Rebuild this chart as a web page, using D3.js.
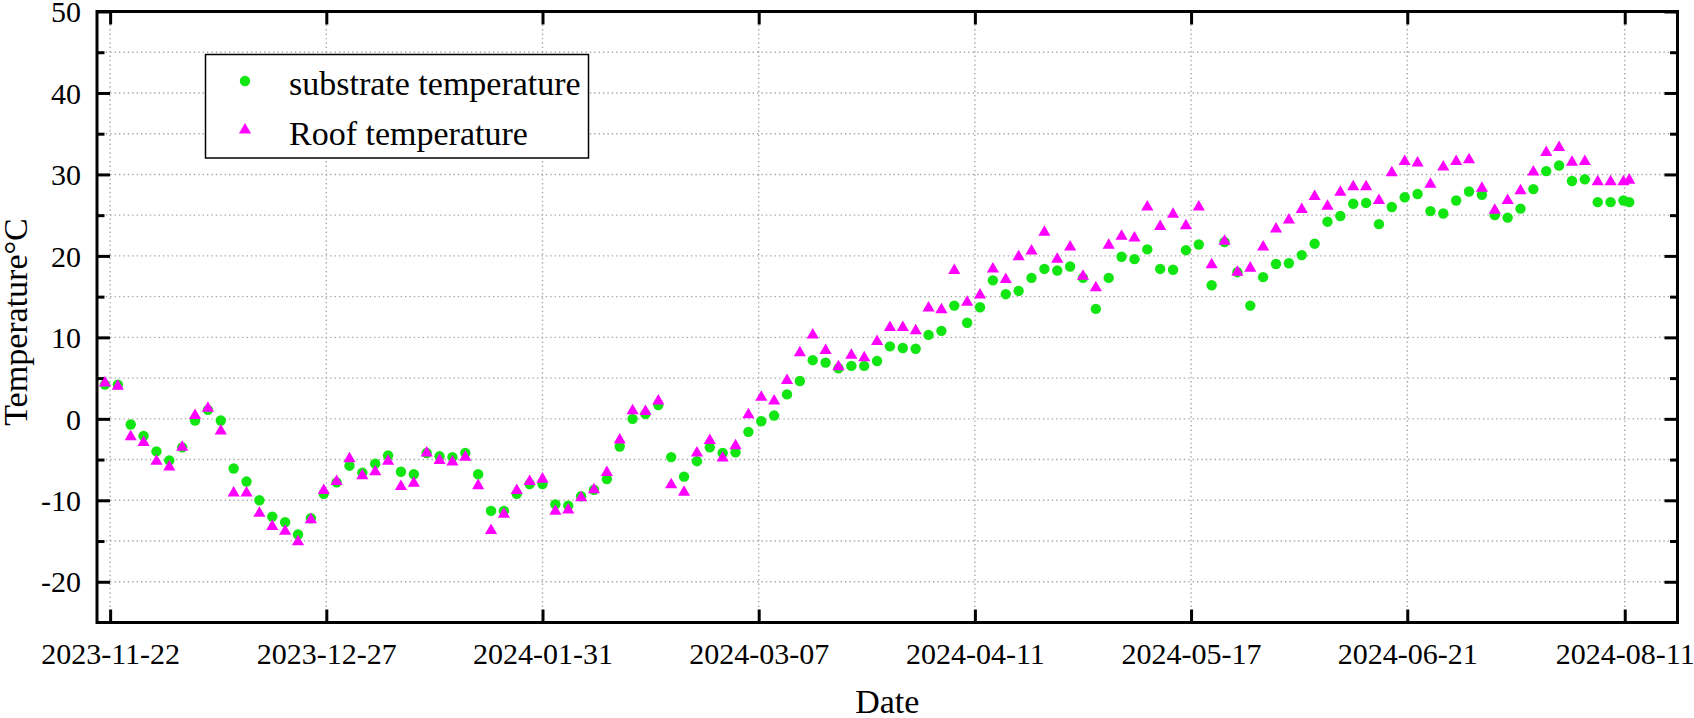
<!DOCTYPE html>
<html>
<head>
<meta charset="utf-8">
<script src="https://cdn.jsdelivr.net/npm/d3@7"></script>
<style>
  html, body { margin: 0; padding: 0; background: #fff; }
  svg { display: block; }
  text { font-family: "Liberation Serif", "Times New Roman", serif; fill: #000; }
</style>
</head>
<body>
<svg id="chart" width="1694" height="718"></svg>
<script>
// ---------- data ----------
const xTickLabels = ["2023-11-22","2023-12-27","2024-01-31","2024-03-07","2024-04-11","2024-05-17","2024-06-21","2024-08-11"];
// position of each date label along the sample sequence (sample number)
const xTickSample = [0.4, 17.2, 34.0, 50.8, 67.6, 84.4, 101.2, 118.1];

const substrateTemp = [
  4.2, 4.2, -0.7, -2.1, -4.0, -5.1, -3.5, -0.2, 1.1, -0.2,
  -6.1, -7.7, -10.0, -12.0, -12.7, -14.2, -12.2, -9.2, -7.8, -5.75,
  -6.6, -5.5, -4.5, -6.5, -6.8, -4.2, -4.6, -4.7, -4.2, -6.8,
  -11.3, -11.3, -9.2, -8.0, -8.0, -10.5, -10.65, -9.5, -8.7, -7.4,
  -3.4, 0.0, 0.6, 1.7, -4.7, -7.1, -5.2, -3.5, -4.2, -4.1,
  -1.6, -0.3, 0.4, 3.0, 4.65, 7.2, 6.9, 6.2, 6.5, 6.5,
  7.1, 8.9, 8.7, 8.6, 10.3, 10.8, 13.9, 11.8, 13.7, 17.0,
  15.3, 15.7, 17.3, 18.4, 18.2, 18.7, 17.3, 13.5, 17.3, 19.9,
  19.6, 20.8, 18.4, 18.3, 20.7, 21.4, 16.4, 21.7, 18.0, 13.9,
  17.4, 19.0, 19.1, 20.1, 21.5, 24.2, 24.9, 26.4, 26.5, 23.9,
  26.0, 27.2, 27.6, 25.5, 25.2, 26.8, 27.9, 27.5, 25.0, 24.7,
  25.8, 28.2, 30.4, 31.1, 29.2, 29.4, 26.6, 26.6, 26.8, 26.6
];
const roofTemp = [
  4.4, 4.0, -2.2, -2.9, -5.2, -5.9, -3.5, 0.4, 1.3, -1.5,
  -9.1, -9.1, -11.6, -13.2, -13.8, -15.1, -12.4, -8.8, -7.7, -4.9,
  -7.0, -6.5, -5.2, -8.3, -7.9, -4.2, -5.1, -5.3, -4.7, -8.2,
  -13.7, -11.7, -8.8, -7.7, -7.4, -11.35, -11.2, -9.7, -8.7, -6.6,
  -2.6, 1.0, 0.9, 2.2, -8.1, -9.0, -4.2, -2.65, -4.8, -3.3,
  0.5, 2.65, 2.2, 4.7, 8.1, 10.3, 8.4, 6.4, 7.8, 7.5,
  9.5, 11.2, 11.2, 10.8, 13.6, 13.4, 18.2, 14.3, 15.2, 18.4,
  17.1, 19.9, 20.6, 22.9, 19.6, 21.1, 17.5, 16.1, 21.3, 22.4,
  22.2, 26.0, 23.6, 25.1, 23.7, 26.0, 18.9, 21.8, 18.0, 18.5,
  21.1, 23.3, 24.4, 25.7, 27.3, 26.1, 27.8, 28.5, 28.5, 26.8,
  30.2, 31.6, 31.4, 28.8, 30.9, 31.6, 31.8, 28.3, 25.6, 26.8,
  28.0, 30.3, 32.7, 33.3, 31.5, 31.6, 29.1, 29.1, 29.1, 29.3
];
// sample number of each reading (last reading taken shortly after the previous one)
const sampleNo = d3.range(119).concat([118.45]);

const yMajorTicks = [-20, -10, 0, 10, 20, 30, 40, 50];
const yMinorTicks = [-15, -5, 5, 15, 25, 35, 45];
const seriesNames = ["substrate temperature", "Roof temperature"];

// ---------- layout ----------
const PL = 97, PR = 1677.5, PT = 11.5, PB = 622.5;
const GREEN = "#12e612", MAGENTA = "#ff00ff";
const SERIF = "Liberation Serif, Times New Roman, serif";

const svg = d3.select("#chart");
const x = d3.scaleLinear().domain([-0.62, 122.2]).range([PL, PR]);
const y = d3.scaleLinear().domain([-25, 50]).range([PB, PT]);

// grid
const grid = svg.append("g").attr("stroke", "#a8a8a8").attr("stroke-width", 1.4)
  .attr("stroke-dasharray", "1.4 3").attr("fill", "none");
grid.selectAll("line.h").data(yMajorTicks.concat(yMinorTicks).filter(v => v > -25 && v < 50))
  .join("line").attr("class", "h")
  .attr("x1", PL).attr("x2", PR).attr("y1", d => y(d)).attr("y2", d => y(d));
grid.selectAll("line.v").data(xTickSample)
  .join("line").attr("class", "v")
  .attr("x1", d => x(d)).attr("x2", d => x(d)).attr("y1", PT).attr("y2", PB);

// axes
function styleAxis(g) {
  g.attr("font-family", SERIF).attr("font-size", 30);
  g.select(".domain").remove();
  g.selectAll(".tick line").attr("stroke", "#000").attr("stroke-width", 3);
}
const axB = svg.append("g").attr("transform", `translate(0,${PB})`)
  .call(d3.axisBottom(x).tickValues(xTickSample).tickFormat((d, i) => xTickLabels[i]).tickSize(-13).tickPadding(0));
styleAxis(axB);
axB.selectAll(".tick text").attr("y", 41).attr("dy", null);

const axT = svg.append("g").attr("transform", `translate(0,${PT})`)
  .call(d3.axisTop(x).tickValues(xTickSample).tickFormat("").tickSize(-13));
styleAxis(axT);

const axL = svg.append("g").attr("transform", `translate(${PL},0)`)
  .call(d3.axisLeft(y).tickValues(yMajorTicks).tickFormat(d => String(d)).tickSize(-13).tickPadding(0));
styleAxis(axL);
axL.selectAll(".tick text").attr("x", -16).attr("dy", "0.34em");
const axLm = svg.append("g").attr("transform", `translate(${PL},0)`)
  .call(d3.axisLeft(y).tickValues(yMinorTicks).tickFormat("").tickSize(-7.5));
styleAxis(axLm);

const axR = svg.append("g").attr("transform", `translate(${PR},0)`)
  .call(d3.axisRight(y).tickValues(yMajorTicks).tickFormat("").tickSize(-13));
styleAxis(axR);
const axRm = svg.append("g").attr("transform", `translate(${PR},0)`)
  .call(d3.axisRight(y).tickValues(yMinorTicks).tickFormat("").tickSize(-7.5));
styleAxis(axRm);

// frame
svg.append("rect").attr("x", PL).attr("y", PT).attr("width", PR - PL).attr("height", PB - PT)
  .attr("fill", "none").attr("stroke", "#000").attr("stroke-width", 3);

// points
const pts = svg.append("g");
pts.selectAll("circle").data(substrateTemp).join("circle")
  .attr("cx", (d, i) => x(sampleNo[i])).attr("cy", d => y(d)).attr("r", 5.2).attr("fill", GREEN);
const tri = d3.symbol(d3.symbolTriangle, 64);
pts.selectAll("path").data(roofTemp).join("path")
  .attr("d", tri).attr("fill", MAGENTA)
  .attr("transform", (d, i) => `translate(${x(sampleNo[i])},${y(d)})`);

// axis titles
svg.append("text").attr("x", (PL + PR) / 2).attr("y", 713).attr("text-anchor", "middle")
  .attr("font-family", SERIF).attr("font-size", 34).text("Date");
svg.append("text").attr("transform", `translate(27,${(PT + PB) / 2 + 5}) rotate(-90)`)
  .attr("text-anchor", "middle").attr("font-family", SERIF).attr("font-size", 34).text("Temperature°C");

// legend
const lg = svg.append("g").attr("font-family", SERIF).attr("font-size", 34);
lg.append("rect").attr("x", 205.5).attr("y", 54.5).attr("width", 383).attr("height", 103.5)
  .attr("fill", "#fff").attr("stroke", "#000").attr("stroke-width", 1.5);
lg.append("circle").attr("cx", 245).attr("cy", 81).attr("r", 5.2).attr("fill", GREEN);
lg.append("path").attr("d", tri).attr("fill", MAGENTA).attr("transform", "translate(245,130)");
lg.append("text").attr("x", 289).attr("y", 95).text(seriesNames[0]);
lg.append("text").attr("x", 289).attr("y", 144.5).text(seriesNames[1]);
</script>
</body>
</html>
